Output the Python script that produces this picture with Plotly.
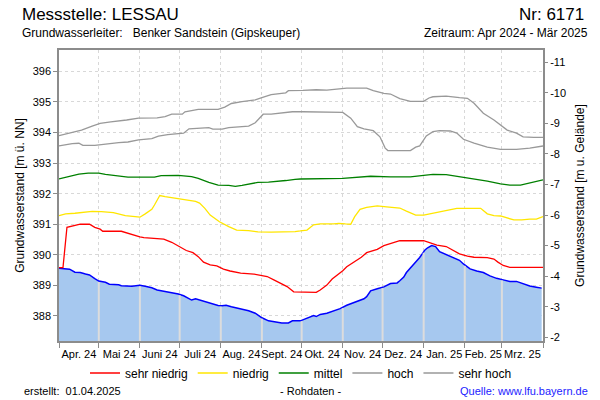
import numpy as np
import pandas as pd
import plotly.graph_objects as go

# ---------------- data ----------------
START = "2024-04-01"
END = "2025-04-01"

month_labels = ["Apr. 24", "Mai 24", "Juni 24", "Juli 24", "Aug. 24", "Sept. 24",
                "Okt. 24", "Nov. 24", "Dez. 24", "Jan. 25", "Feb. 25", "Mrz. 25"]

# measured groundwater level (days since START, m ü. NN)
gw_days = [0, 8, 12, 16, 20, 23, 27, 30, 35, 38, 45, 47, 55, 61, 65, 70, 74, 77, 84, 90,
           94, 97, 100, 103, 106, 110, 115, 120, 123, 126, 130, 136, 143, 148, 153, 158,
           163, 168, 173, 176, 182, 187, 192, 194, 197, 202, 207, 212, 217, 220, 224, 230,
           232, 235, 240, 245, 250, 255, 257, 260, 262, 265, 268, 272, 276, 278, 281, 284,
           287, 292, 297, 302, 305, 310, 315, 320, 325, 330, 335, 340, 345, 350, 355, 360, 364]
gw_level = [389.56, 389.53, 389.43, 389.42, 389.37, 389.34, 389.22, 389.14, 389.10, 389.04,
            389.02, 388.99, 388.97, 389.00, 388.97, 388.92, 388.85, 388.83, 388.76, 388.72,
            388.66, 388.59, 388.52, 388.56, 388.52, 388.48, 388.41, 388.34, 388.33, 388.35,
            388.30, 388.25, 388.17, 388.09, 387.94, 387.84, 387.81, 387.77, 387.77, 387.84,
            387.84, 387.92, 388.01, 387.98, 388.05, 388.09, 388.16, 388.24, 388.35, 388.40,
            388.45, 388.56, 388.63, 388.82, 388.89, 388.95, 389.06, 389.08, 389.15, 389.27,
            389.42, 389.56, 389.72, 389.91, 390.16, 390.23, 390.30, 390.27, 390.10, 390.00,
            389.92, 389.82, 389.70, 389.54, 389.47, 389.42, 389.31, 389.23, 389.18, 389.13,
            389.13, 389.05, 388.98, 388.94, 388.91]

# statistical reference curves
sn_days = [0, 3, 6, 11, 16, 23, 27, 31, 33, 47, 54, 61, 64, 71, 79, 85, 91, 96, 101, 105,
           109, 114, 119, 124, 129, 137, 147, 152, 157, 162, 167, 172, 177, 187, 194, 197,
           202, 206, 209, 214, 217, 221, 225, 228, 232, 235, 240, 245, 250, 255, 257, 275,
           280, 285, 292, 297, 302, 308, 313, 323, 328, 331, 335, 340, 365]
sn_level = [389.58, 389.58, 390.90, 390.94, 391.00, 391.00, 390.90, 390.84, 390.77, 390.77,
            390.67, 390.59, 390.56, 390.54, 390.51, 390.41, 390.27, 390.14, 390.07, 389.94,
            389.76, 389.67, 389.64, 389.53, 389.47, 389.40, 389.37, 389.32, 389.29, 389.18,
            389.07, 388.96, 388.79, 388.77, 388.77, 388.85, 389.01, 389.21, 389.31, 389.48,
            389.61, 389.72, 389.81, 389.92, 390.07, 390.11, 390.18, 390.30, 390.37, 390.44,
            390.46, 390.46, 390.40, 390.32, 390.27, 390.16, 390.03, 389.96, 389.92, 389.91,
            389.86, 389.76, 389.65, 389.59, 389.59]

ni_days = [0, 5, 12, 20, 25, 32, 41, 50, 57, 61, 65, 70, 72, 76, 80, 88, 95, 103, 106, 110,
           114, 121, 128, 134, 143, 150, 160, 171, 178, 182, 187, 192, 197, 207, 211, 216,
           220, 223, 227, 232, 240, 247, 257, 262, 269, 275, 282, 287, 292, 300, 308, 318,
           323, 328, 333, 338, 343, 349, 355, 360, 365]
ni_level = [391.28, 391.34, 391.36, 391.39, 391.42, 391.41, 391.38, 391.28, 391.26, 391.23,
            391.34, 391.49, 391.63, 391.94, 391.90, 391.85, 391.79, 391.75, 391.69, 391.52,
            391.30, 391.08, 390.92, 390.81, 390.79, 390.75, 390.74, 390.74, 390.76, 390.78,
            390.81, 390.98, 391.01, 391.01, 391.03, 391.01, 391.00, 391.25, 391.49, 391.55,
            391.60, 391.57, 391.53, 391.43, 391.30, 391.30, 391.36, 391.41, 391.47, 391.52,
            391.52, 391.52, 391.34, 391.28, 391.27, 391.20, 391.14, 391.14, 391.17, 391.17,
            391.25]

mi_days = [0, 7, 15, 22, 30, 35, 40, 47, 52, 62, 72, 77, 90, 100, 105, 113, 120, 128, 133,
           138, 145, 150, 158, 163, 171, 178, 182, 214, 227, 235, 250, 265, 275, 282, 292,
           302, 313, 323, 333, 340, 348, 355, 365]
mi_level = [392.48, 392.56, 392.64, 392.67, 392.67, 392.63, 392.60, 392.58, 392.54, 392.54,
            392.54, 392.59, 392.60, 392.56, 392.50, 392.37, 392.28, 392.27, 392.24, 392.27,
            392.33, 392.37, 392.38, 392.39, 392.43, 392.47, 392.48, 392.50, 392.54, 392.57,
            392.55, 392.55, 392.60, 392.63, 392.62, 392.56, 392.48, 392.41, 392.32, 392.28,
            392.28, 392.35, 392.45]

ho_days = [0, 10, 15, 18, 27, 35, 45, 52, 60, 70, 75, 82, 94, 98, 105, 113, 116, 123, 128,
           138, 143, 148, 154, 160, 168, 176, 184, 204, 214, 220, 225, 230, 237, 242, 246,
           248, 265, 269, 272, 277, 282, 287, 295, 300, 305, 313, 323, 333, 345, 355, 365]
ho_level = [393.56, 393.64, 393.65, 393.58, 393.58, 393.63, 393.67, 393.69, 393.76, 393.80,
            393.88, 393.93, 393.98, 394.12, 394.14, 394.16, 394.11, 394.11, 394.16, 394.19,
            394.21, 394.32, 394.60, 394.60, 394.65, 394.68, 394.68, 394.68, 394.66, 394.47,
            394.19, 394.12, 394.06, 393.86, 393.49, 393.41, 393.41, 393.52, 393.56, 393.89,
            394.03, 394.06, 394.05, 393.98, 393.78, 393.65, 393.52, 393.45, 393.45, 393.49,
            393.56]

sh_days = [0, 10, 17, 25, 31, 39, 45, 51, 60, 74, 80, 85, 93, 95, 105, 120, 125, 130, 138,
           148, 153, 160, 171, 173, 184, 194, 202, 214, 217, 232, 237, 245, 250, 257, 265,
           275, 279, 282, 292, 302, 308, 313, 320, 328, 333, 338, 345, 350, 358, 365]
sh_level = [393.90, 394.00, 394.08, 394.21, 394.30, 394.35, 394.37, 394.41, 394.47, 394.48,
            394.52, 394.60, 394.60, 394.68, 394.76, 394.76, 394.83, 394.95, 395.01, 395.07,
            395.14, 395.24, 395.30, 395.37, 395.38, 395.40, 395.39, 395.43, 395.45, 395.45,
            395.37, 395.28, 395.26, 395.11, 395.02, 395.02, 395.13, 395.17, 395.19, 395.14,
            395.12, 394.96, 394.63, 394.41, 394.25, 394.08, 393.98, 393.86, 393.84, 393.84]

left_range = [387.18, 396.70]          # m ü. NN
right_range = [-1.88, -11.40]          # m u. Gelände (reversed)
right_ticks = [-11, -10, -9, -8, -7, -6, -5, -4, -3, -2]
depth_offset = 385.3                   # depth = offset - level

# ---------------- helpers ----------------
t0 = pd.Timestamp(START)


def to_dates(days):
    return t0 + pd.to_timedelta(np.asarray(days, dtype=float), unit="D")


month_starts = pd.date_range(START, END, freq="MS")
month_mids = month_starts[:-1] + (month_starts[1:] - month_starts[:-1]) / 2

FONT = "Arial, Liberation Sans, sans-serif"
PL, PR, PT, PB = 59, 543, 50, 341     # plot area in pixels


def px(x):
    return (x - PL) / (PR - PL)


def py(y):
    return (PB - y) / (PB - PT)


fig = go.Figure()

gw_dates = to_dates(gw_days)
fig.add_trace(go.Scatter(
    x=gw_dates, y=gw_level, mode="lines", fill="tozeroy",
    fillcolor="#A6C8EF", line=dict(color="#0000FF", width=1.5),
    name="Grundwasserstand", showlegend=False, hoverinfo="skip"))

series = [
    ("sehr niedrig", sn_days, sn_level, "#FF0000"),
    ("niedrig", ni_days, ni_level, "#FFE600"),
    ("mittel", mi_days, mi_level, "#008000"),
    ("hoch", ho_days, ho_level, "#999999"),
    ("sehr hoch", sh_days, sh_level, "#999999"),
]
for name, d, v, c in series:
    fig.add_trace(go.Scatter(x=to_dates(d), y=v, mode="lines", name=name,
                             line=dict(color=c, width=1.3), hoverinfo="skip"))

# depth axis (invisible companion trace)
fig.add_trace(go.Scatter(x=gw_dates, y=depth_offset - np.asarray(gw_level), yaxis="y2",
                         mode="lines", line=dict(width=0, color="rgba(0,0,0,0)"),
                         showlegend=False, hoverinfo="skip"))

# month separators drawn over the filled area
gw_num = np.asarray(gw_days, dtype=float)
for ms in month_starts[1:-1]:
    dd = (ms - t0).days
    yv = float(np.interp(dd, gw_num, gw_level))
    fig.add_shape(type="line", xref="x", yref="y", x0=ms, x1=ms,
                  y0=left_range[0], y1=yv - 0.03,
                  line=dict(color="#DCDCDC", width=2), layer="above")

GRID = "#D8D8D8"
AX = "#8C8C8C"

fig.update_layout(
    template="none",
    width=600, height=400,
    margin=dict(l=PL, r=600 - PR, t=PT, b=400 - PB, pad=0),
    paper_bgcolor="white", plot_bgcolor="white",
    font=dict(family=FONT, size=11, color="#000000"),
    xaxis=dict(
        type="date", range=[month_starts[0], month_starts[-1]],
        tickmode="array", tickvals=month_mids, ticktext=month_labels,
        ticks="", showgrid=False, ticklabelstandoff=2, tickangle=0, automargin=False,
        tickfont=dict(size=11, color="#000000"),
        showline=True, linecolor=AX, linewidth=1.5, mirror=True,
        minor=dict(tickmode="array", tickvals=month_starts, ticks="outside",
                   ticklen=5, tickcolor=AX, tickwidth=1,
                   showgrid=True, gridcolor=GRID, griddash="3px,3px", gridwidth=1),
        zeroline=False,
    ),
    yaxis=dict(
        range=left_range, tickmode="array", tickvals=list(range(388, 397)),
        ticktext=[str(v) for v in range(388, 397)], automargin=False,
        ticks="outside", ticklen=4, tickcolor=AX,
        showgrid=True, gridcolor=GRID, griddash="3px,3px", gridwidth=1,
        showline=True, linecolor=AX, linewidth=1.5, mirror=True,
        zeroline=False, tickfont=dict(size=11),
        title=dict(text="Grundwasserstand [m ü. NN]", font=dict(size=12), standoff=5),
    ),
    yaxis2=dict(
        overlaying="y", side="right", range=right_range, automargin=False,
        tickmode="array", tickvals=right_ticks, ticktext=[str(v) for v in right_ticks],
        ticks="outside", ticklen=4, tickcolor=AX,
        showgrid=False, zeroline=False, showline=False,
        tickfont=dict(size=11),
        title=dict(text="Grundwasserstand [m u. Gelände]", font=dict(size=12), standoff=10),
    ),
    legend=dict(orientation="h", x=0.5, xanchor="center", y=py(373), yanchor="middle",
                font=dict(size=12), itemwidth=30, bgcolor="rgba(0,0,0,0)",
                traceorder="normal"),
    showlegend=True,
)

ann = [
    dict(text="Messstelle: LESSAU", x=px(20), y=py(14), xanchor="left", size=17, color="#000"),
    dict(text="Nr: 6171", x=px(586), y=py(14), xanchor="right", size=17, color="#000"),
    dict(text="Grundwasserleiter:\u00a0\u00a0\u00a0Benker Sandstein (Gipskeuper)",
         x=px(20), y=py(33), xanchor="left", size=12, color="#000"),
    dict(text="Zeitraum: Apr 2024 - Mär 2025", x=px(590), y=py(33), xanchor="right",
         size=12, color="#000"),
    dict(text="erstellt:\u00a0\u00a001.04.2025", x=px(22), y=py(391), xanchor="left",
         size=11, color="#000"),
    dict(text="- Rohdaten -", x=px(310), y=py(391), xanchor="center", size=11, color="#000"),
    dict(text="Quelle: www.lfu.bayern.de", x=px(590), y=py(391), xanchor="right",
         size=11, color="#1C1CFF"),
]
for a in ann:
    fig.add_annotation(text=a["text"], x=a["x"], y=a["y"], xref="paper", yref="paper",
                       xanchor=a["xanchor"], yanchor="middle", showarrow=False,
                       font=dict(family=FONT, size=a["size"], color=a["color"]))

fig.write_html("out.html", config={"displayModeBar": False},
               post_script="document.body.style.margin='0';")
